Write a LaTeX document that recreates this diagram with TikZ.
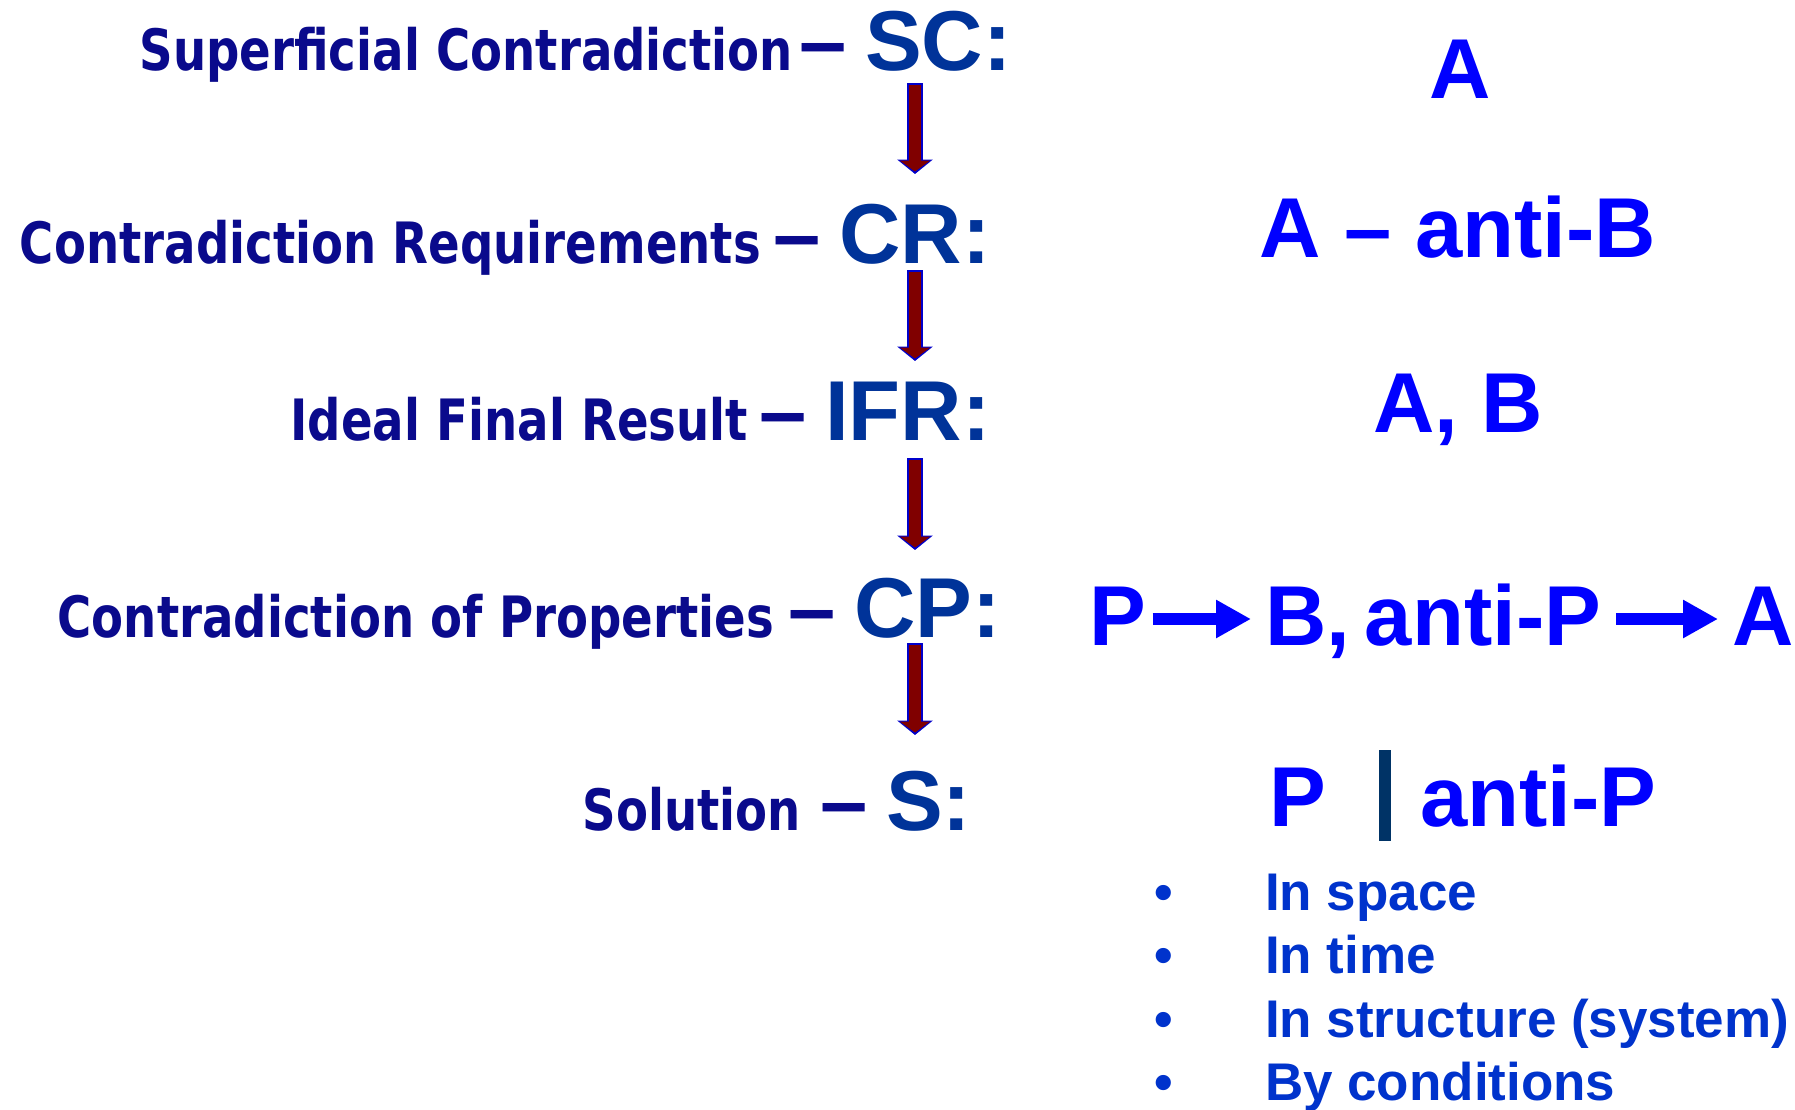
\documentclass[tikz,border=0pt]{standalone}
\usepackage{fontspec}
\usepackage{tikz}
\usetikzlibrary{arrows.meta,positioning}
\newfontfamily\lblfont{DejaVu Sans Bold}[FakeStretch=0.818]
\newfontfamily\arlfont{Liberation Sans Bold}
\definecolor{lblnavy}{RGB}{10,10,140}
\definecolor{codblue}{RGB}{0,51,153}
\definecolor{bigblue}{RGB}{0,0,255}
\definecolor{lstblue}{RGB}{0,51,204}
\definecolor{barnavy}{RGB}{0,51,102}
\definecolor{flowred}{RGB}{128,0,0}
\definecolor{flowedge}{RGB}{0,0,204}
\newcommand{\codedash}{{\color{lblnavy}–}\hspace{19pt}}
\tikzset{
  txt/.style = {inner sep=0pt, outer sep=0pt},
  lbl_n/.style = {txt, text=lblnavy,
    font=\lblfont\fontsize{57}{60}\selectfont},% nom long, a gauche
  cod_n/.style = {txt, anchor=base west, text=codblue,
    font=\arlfont\fontsize{85}{90}\selectfont},% tiret + sigle
  big_n/.style = {txt, text=bigblue, text height=61pt, text depth=9pt,
    font=\arlfont\fontsize{85}{90}\selectfont},% colonne de droite
  lst_n/.style = {txt, anchor=base west, text=lstblue,
    font=\arlfont\fontsize{53}{56}\selectfont},% liste a puces
  flow/.style = {draw=flowred, line width=12.5pt,
    -{Triangle[width=30pt,length=11pt]},
    preaction={draw=flowedge, line width=16.5pt,
      -{Triangle[width=35pt,length=14.5pt]},
      shorten >=-2.5pt, shorten <=-2pt}},% fleche verticale
  prop/.style = {draw=bigblue, line width=12pt,
    -{Triangle[width=36pt,length=35pt]}},% fleche dans le texte
  sep_bar/.style = {draw=barnavy, line width=12pt}
}
\begin{document}
\begin{tikzpicture}[x=1pt,y=-1pt]
        \clip (0,0) rectangle (1795,1109);

        \node [cod_n](SC) at (799,70) {\codedash SC:};
        \node [lbl_n, base left= 6pt of SC](SCt) {Superficial Contradiction};
        \node [cod_n](CR) at (773,263) {\codedash CR:};
        \node [lbl_n, base left= 12pt of CR](CRt) {Contradiction Requirements};
        \node [cod_n](IFR) at (759,440) {\codedash IFR:};
        \node [lbl_n, base left= 11pt of IFR](IFRt) {Ideal Final Result};
        \node [cod_n](CP) at (788,637) {\codedash CP:};
        \node [lbl_n, base left= 14pt of CP](CPt) {Contradiction of Properties};
        \node [cod_n](S) at (820,830) {\codedash S:};
        \node [lbl_n, base left= 19pt of S](St) {Solution};

        \coordinate (a1) at (915,85);
        \coordinate (b1) at (915,171.5);
        \coordinate (a2) at (915,272);
        \coordinate (b2) at (915,358.5);
        \coordinate (a3) at (915,460);
        \coordinate (b3) at (915,547.5);
        \coordinate (a4) at (915,645);
        \coordinate (b4) at (915,732.5);

        \draw [flow] (a1) -- (b1);
        \draw [flow] (a2) -- (b2);
        \draw [flow] (a3) -- (b3);
        \draw [flow] (a4) -- (b4);

        \node [big_n, anchor=base](RA) at (1460,98) {A};
        \node [big_n, anchor=base](RB) at (1458,257) {A – anti-B};
        \node [big_n, anchor=base](RC) at (1458,432) {A, B};
        \node [big_n, anchor=base west](P) at (1089,645) {P};
        \node [big_n, anchor=base west](BP) at (1265,645) {B,\hspace{15pt}anti-P};
        \node [big_n, anchor=base west](PA) at (1732,645) {A};
        \draw [prop, shorten <=7pt, shorten >=14pt] (P) -- (BP);
        \draw [prop, shorten <=15pt, shorten >=14pt] (BP) -- (PA);

        \node [big_n, anchor=base west](SP) at (1269,826) {P};
        \node [big_n, anchor=base west](SAP) at (1420,826) {anti-P};
        \coordinate (bt) at (1385,750);
        \coordinate (bb) at (1385,841);
        \draw [sep_bar] (bt) -- (bb);

        \node [lst_n](d1) at (1154,910) {•};
        \node [lst_n](d2) at (1154,973) {•};
        \node [lst_n](d3) at (1154,1037) {•};
        \node [lst_n](d4) at (1154,1100) {•};
        \node [lst_n](l1) at (1265,910) {In space};
        \node [lst_n](l2) at (1265,973) {In time};
        \node [lst_n](l3) at (1265,1037) {In structure (system)};
        \node [lst_n](l4) at (1265,1100) {By conditions};

        \end{tikzpicture}
\end{document}
